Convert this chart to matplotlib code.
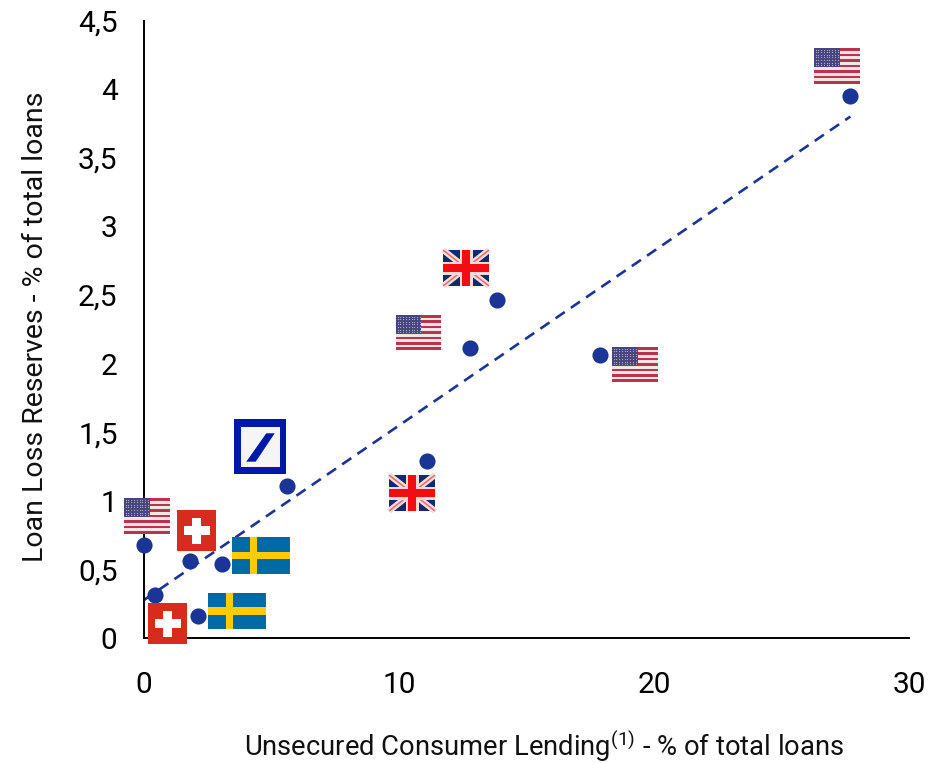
import numpy as np
import matplotlib
matplotlib.use("Agg")
import matplotlib.pyplot as plt
from matplotlib.patches import Rectangle, Polygon

plt.rcParams["font.family"] = "Roboto"
plt.rcParams["mathtext.default"] = "regular"

# Scatter values
lending = [27.7, 13.85, 12.8, 17.9, 11.1, 5.6, 0.0, 1.8, 3.05, 0.43, 2.1]
reserves = [3.95, 2.46, 2.11, 2.06, 1.29, 1.11, 0.68, 0.56, 0.54, 0.31, 0.16]

# Trend line ends
trend_x = [0.0, 27.7]
trend_y = [0.277, 3.8]

x_ticks = [0, 10, 20, 30]
y_ticks = [0, 0.5, 1, 1.5, 2, 2.5, 3, 3.5, 4, 4.5]
y_tick_labels = ["0", "0,5", "1", "1,5", "2", "2,5", "3", "3,5", "4", "4,5"]

BLUE = "#1a3596"
W, H = 944, 763


def box(ov, x0, y0, x1, y1, color, z=1):
    ov.add_patch(Rectangle((x0, y0), x1 - x0, y1 - y0, fc=color, ec="none", zorder=z))


def us_flag(ov, x0, y0, x1, y1):
    box(ov, x0, y0, x1, y1, "#f4e4e6")
    step = (y1 - y0) / 13
    for i in range(0, 13, 2):
        box(ov, x0, y0 + i * step, x1, y0 + (i + 1) * step, "#b8344d")
    cx = x0 + (x1 - x0) * 0.56
    cy = y0 + 7 * step
    box(ov, x0, y0, cx, cy, "#45457c")
    for yy in np.arange(y0 + 1.5, cy, 2.6):
        for xx in np.arange(x0 + 1.5, cx, 2.8):
            ov.plot(xx, yy, "o", ms=0.9, mfc="#a9a9c6", mec="none")


def uk_flag(ov, x0, y0, x1, y1):
    box(ov, x0, y0, x1, y1, "#0f2a6e")
    for a, b in [((x0, y0), (x1, y1)), ((x0, y1), (x1, y0))]:
        ov.plot([a[0], b[0]], [a[1], b[1]], color="#f4dcdc", lw=4.4, solid_capstyle="butt", zorder=2)
        ov.plot([a[0], b[0]], [a[1], b[1]], color="#ee6a70", lw=1.1, solid_capstyle="butt", zorder=2)
    xm, ym = (x0 + x1) / 2, (y0 + y1) / 2
    box(ov, xm - 6.5, y0, xm + 6.5, y1, "#f3d9d9", z=3)
    box(ov, x0, ym - 6.5, x1, ym + 6.5, "#f3d9d9", z=3)
    box(ov, xm - 3.8, y0, xm + 3.8, y1, "#f20d12", z=4)
    box(ov, x0, ym - 3.8, x1, ym + 3.8, "#f20d12", z=4)


def swiss_flag(ov, x0, y0, x1, y1):
    box(ov, x0, y0, x1, y1, "#d72b1f")
    xm, ym = (x0 + x1) / 2, (y0 + y1) / 2
    box(ov, xm - 4.8, ym - 13, xm + 4.8, ym + 13, "white", z=2)
    box(ov, xm - 13, ym - 4.8, xm + 13, ym + 4.8, "white", z=2)


def swedish_flag(ov, x0, y0, x1, y1):
    box(ov, x0, y0, x1, y1, "#006aa7")
    ym = (y0 + y1) / 2
    xc = x0 + (x1 - x0) * 0.37
    box(ov, xc - 3.9, y0, xc + 3.9, y1, "#fecc00", z=2)
    box(ov, x0, ym - 3.9, x1, ym + 3.9, "#fecc00", z=2)


def db_logo(ov, x0, y0, x1, y1):
    box(ov, x0, y0, x1, y1, "#0018a8")
    box(ov, x0 + 7.3, y0 + 7.7, x1 - 5.7, y1 - 6.7, "#f5f5f5", z=2)
    ov.add_patch(Polygon([(x0 + 12.3, y0 + 42.7), (x0 + 32.3, y0 + 14.3), (x0 + 40.7, y0 + 14.3),
                          (x0 + 21.7, y0 + 42.7)], fc="#0018a8", ec="none", zorder=3))


fig = plt.figure(figsize=(W / 100, H / 100), dpi=100)
ax = fig.add_axes([144 / W, 1 - 638 / H, (909 - 144) / W, (638 - 20.5) / H])

ax.plot(trend_x, trend_y, color=BLUE, lw=1.9, dashes=(4.2, 2.8))
ax.scatter(lending, reserves, s=135, color=BLUE, zorder=3, clip_on=False, linewidths=0)

ax.set_xlim(0, 30)
ax.set_ylim(0, 4.5)
ax.set_xticks(x_ticks)
ax.set_yticks(y_ticks)
ax.set_yticklabels(y_tick_labels)
ax.tick_params(axis="both", length=0, labelsize=21.5)
ax.tick_params(axis="x", pad=24)
ax.tick_params(axis="y", pad=19)
for side in ["top", "right"]:
    ax.spines[side].set_visible(False)
for side in ["left", "bottom"]:
    ax.spines[side].set_linewidth(1.4)
    ax.spines[side].set_color("black")

fig.text(544 / W, 1 - 756 / H, "Unsecured Consumer Lending$^{(1)}$ - % of total loans",
         fontsize=19.7, ha="center", va="baseline", color="#111111")
fig.text(36 / W, 1 - 327 / H, "Loan Loss Reserves - % of total loans",
         fontsize=20.5, rotation=90, ha="center", va="center", color="#111111")

# Flags and logo sit in a pixel overlay on top of the chart
ov = fig.add_axes([0, 0, 1, 1], facecolor="none")
ov.set_xlim(0, W)
ov.set_ylim(H, 0)
ov.axis("off")

us_flag(ov, 814, 48, 860, 84)
us_flag(ov, 396, 315, 441, 350)
us_flag(ov, 612, 347, 658, 382)
us_flag(ov, 124, 498, 170, 534)
uk_flag(ov, 443, 250, 489, 286)
uk_flag(ov, 389, 475, 435, 511)
swiss_flag(ov, 177, 510, 216, 551)
swiss_flag(ov, 148, 603, 187, 644)
swedish_flag(ov, 232, 537, 290, 574)
swedish_flag(ov, 208, 593, 266, 629)
db_logo(ov, 234, 419, 286, 474)

plt.savefig("out.png", dpi=100)
